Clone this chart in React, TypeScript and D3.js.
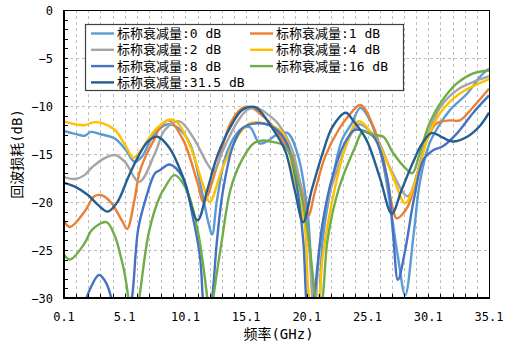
import { useEffect, useRef } from "react";
import * as d3 from "d3";

type Pt = [number, number];

// frequency (GHz), return loss (dB)
const att0: Pt[] = [[0.1,-12.6],[1.0,-12.9],[1.8,-13.1],[2.3,-12.7],[3.0,-12.9],[4.3,-13.4],[5.2,-14.6],[5.9,-15.8],[6.5,-15.3],[7.5,-13.0],[8.6,-11.9],[9.5,-12.3],[10.5,-14.0],[11.3,-18],[12.0,-22.2],[12.3,-23.4],[12.7,-19.8],[13.5,-14.9],[14.6,-12.5],[15.4,-12.2],[16.2,-13.9],[16.8,-13.7],[17.6,-13.0],[18.5,-12.8],[19.4,-15.3],[20.2,-21.6],[20.7,-31],[21.0,-32],[21.4,-24],[22.2,-17.7],[23.0,-13.5],[23.8,-11.8],[24.5,-10.2],[25.3,-11.5],[26.2,-15.0],[26.9,-19.8],[27.6,-25.7],[28.2,-29.7],[28.9,-23.3],[29.4,-18],[30.2,-13.9],[31.1,-11.8],[31.9,-10.4],[33.3,-8.7],[34.4,-6.9],[35.1,-6.1]];
const att1: Pt[] = [[0.1,-22.0],[0.6,-22.6],[1.8,-21],[2.6,-19.4],[3.2,-19.3],[4.0,-20.1],[4.9,-22],[5.3,-22.8],[5.9,-19.8],[6.3,-17],[6.8,-15.3],[7.6,-13.3],[8.0,-12.2],[8.7,-11.5],[9.9,-13.5],[11.1,-18],[11.6,-20],[12.7,-16.3],[13.8,-11.8],[14.8,-10.2],[15.4,-10.1],[16.7,-11.3],[17.7,-12.8],[18.9,-15.3],[19.7,-18.75],[20.2,-21.5],[20.8,-18.75],[21.6,-15.3],[22.7,-12.5],[23.5,-11.1],[24.5,-9.9],[25.6,-12.2],[26.4,-15.6],[27.2,-20.8],[27.5,-21.7],[28.4,-20.5],[29.2,-17],[30.0,-13.5],[30.8,-11.8],[31.9,-11.5],[32.7,-11.5],[33.8,-10.1],[35.1,-8.2]];
const att2: Pt[] = [[0.1,-17.4],[1.0,-17.6],[1.8,-17.2],[2.4,-16.4],[3.5,-15.4],[4.3,-15.1],[5.1,-15.8],[6.3,-17.9],[7.6,-14.9],[8.4,-12.5],[9.6,-11.6],[10.7,-13.2],[11.9,-16],[12.4,-16.8],[13.2,-14.6],[14.3,-11.8],[15.2,-10.4],[16.0,-10.2],[16.8,-10.8],[17.7,-11.8],[18.9,-14.6],[19.9,-20.8],[20.3,-25],[20.7,-32],[21.2,-24],[21.9,-19.4],[22.7,-16.3],[23.8,-12.8],[24.4,-11.9],[25.9,-13.5],[26.9,-16.3],[28.4,-19.4],[29.2,-17],[30.0,-13.2],[31.1,-10.1],[32.5,-8.3],[33.8,-7.5],[35.1,-6.9]];
const att4: Pt[] = [[0.1,-11.6],[1.0,-11.9],[1.8,-12.0],[2.5,-11.7],[3.3,-11.8],[4.3,-12.5],[5.2,-14.2],[5.8,-15.4],[6.5,-14.5],[7.6,-12.5],[8.8,-11.4],[9.5,-11.8],[10.5,-14.2],[11.6,-18.4],[12.1,-20.0],[13.2,-16.3],[14.6,-12.8],[15.4,-11.8],[16.5,-11.8],[18.1,-12.8],[19.1,-17.7],[19.9,-22.2],[20.5,-31],[20.9,-31],[21.4,-25.7],[22.2,-19.8],[23.2,-14.6],[24.1,-11.8],[24.5,-11.6],[26.1,-14.2],[27.2,-17.4],[28.2,-20.1],[29.4,-16.3],[30.0,-13.5],[31.1,-10.7],[32.7,-8.7],[35.1,-7.2]];
const att8: Pt[] = [[1.4,-33],[2.1,-29.5],[3.0,-27.6],[3.6,-28.5],[4.1,-30.5],[4.6,-33],[5.1,-34],[5.7,-30],[6.2,-22.9],[6.8,-19.8],[7.6,-17],[8.0,-16.7],[8.8,-16.1],[9.9,-17.5],[10.7,-21.5],[11.3,-25.7],[11.6,-31],[11.9,-33],[12.3,-30],[12.7,-24],[13.2,-18.75],[14.0,-14.2],[14.8,-12.3],[16.0,-11.8],[17.0,-12],[18.3,-13.5],[19.1,-17],[19.8,-24],[20.1,-31],[20.4,-33],[20.7,-30],[21.4,-22.2],[22.2,-17.4],[23.2,-13.9],[24.0,-12.5],[24.5,-12.5],[25.6,-13.2],[26.7,-17.4],[27.2,-23.3],[27.6,-28.1],[28.2,-25],[28.9,-19.8],[29.7,-15.6],[30.5,-14.6],[31.3,-14.2],[32.5,-12.8],[33.8,-10.7],[35.1,-8.9]];
const att16: Pt[] = [[0.1,-25.5],[0.6,-26],[1.8,-24.3],[2.4,-22.9],[3.6,-22.1],[4.3,-23.6],[4.7,-25.3],[5.1,-27.5],[5.4,-30],[5.8,-34],[6.3,-30],[7.1,-23.1],[8.0,-19.4],[8.4,-18.5],[9.2,-17.2],[10.2,-18.75],[11.1,-22.9],[11.9,-30],[12.15,-33],[12.4,-30],[13.1,-24],[13.8,-18.75],[14.6,-16],[15.7,-13.9],[16.5,-13.6],[17.1,-13.7],[18.3,-14.2],[19.4,-18],[20.2,-23.3],[20.8,-30],[21.1,-32],[21.4,-30],[21.8,-24],[22.7,-18.75],[24.1,-14.2],[24.7,-12.7],[25.6,-13],[26.4,-13.2],[27.2,-14.9],[28.4,-16.7],[28.8,-17],[29.4,-14.9],[30.2,-11.8],[31.1,-9.7],[32.5,-7.6],[33.8,-6.6],[35.1,-6.3]];
const att315: Pt[] = [[0.1,-18],[1.0,-18.4],[2.1,-19.3],[2.9,-20.3],[3.7,-21],[4.5,-20],[5.4,-17.4],[6.2,-15.3],[7.0,-13.7],[7.8,-13.2],[8.8,-14.4],[9.9,-17.4],[11.1,-21.9],[11.9,-18.75],[12.7,-15.3],[13.8,-12.2],[14.8,-10.4],[15.8,-10.1],[16.3,-10.6],[17.2,-12.2],[18.3,-14.6],[19.1,-18.75],[19.8,-22.1],[20.5,-18.75],[21.4,-14.9],[22.2,-12.2],[23.3,-10.7],[23.9,-11.5],[25.0,-13.5],[26.1,-17.4],[27.1,-21.2],[27.9,-18.75],[28.8,-16],[29.6,-13.9],[30.4,-12.8],[31.3,-13.3],[32.1,-13.7],[33.3,-13.2],[34.4,-12],[35.1,-10.7]];

const seriesNames = [
  "标称衰减量:0 dB",
  "标称衰减量:1 dB",
  "标称衰减量:2 dB",
  "标称衰减量:4 dB",
  "标称衰减量:8 dB",
  "标称衰减量:16 dB",
  "标称衰减量:31.5 dB",
];
const seriesData = [att0, att1, att2, att4, att8, att16, att315];
const seriesColors = ["#5B9BD5", "#ED7D31", "#A5A5A5", "#FFC000", "#4472C4", "#70AD47", "#255E91"];

const xTicks = [0.1, 5.1, 10.1, 15.1, 20.1, 25.1, 30.1, 35.1];
const yTicks = [0, -5, -10, -15, -20, -25, -30];

const W = 514;
const H = 346;
const M = { left: 64, right: 489, top: 10, bottom: 298 };
const FONT = "'DejaVu Sans Mono', 'Noto Sans CJK SC', sans-serif";

export default function App(): JSX.Element {
  const svgRef = useRef<SVGSVGElement | null>(null);

  useEffect(() => {
    if (!svgRef.current) return;
    const svg = d3.select(svgRef.current);
    svg.selectAll("*").remove();

    const x = d3.scaleLinear().domain([0.1, 35.1]).range([M.left, M.right]);
    const y = d3.scaleLinear().domain([-30, 0]).range([M.bottom, M.top]);

    svg.append("rect").attr("width", W).attr("height", H).attr("fill", "#fff");

    svg
      .append("defs")
      .append("clipPath")
      .attr("id", "plot-clip")
      .append("rect")
      .attr("x", M.left)
      .attr("y", M.top)
      .attr("width", M.right - M.left)
      .attr("height", M.bottom - M.top);

    // grid: every 1 GHz vertically, every 5 dB horizontally
    const grid = svg
      .append("g")
      .attr("stroke", "#bfbfbf")
      .attr("stroke-width", 1)
      .attr("stroke-dasharray", "3,3");
    grid
      .selectAll("line.v")
      .data(d3.range(1, 35).map((i) => 0.1 + i))
      .join("line")
      .attr("x1", (d) => Math.round(x(d)) + 0.5)
      .attr("x2", (d) => Math.round(x(d)) + 0.5)
      .attr("y1", M.top)
      .attr("y2", M.bottom);
    grid
      .selectAll("line.h")
      .data(yTicks.filter((v) => v > -30 && v < 0))
      .join("line")
      .attr("x1", M.left)
      .attr("x2", M.right)
      .attr("y1", (d) => Math.round(y(d)) + 0.5)
      .attr("y2", (d) => Math.round(y(d)) + 0.5);

    // series — smooth curves like the spreadsheet's smoothed lines
    const line = d3
      .line<Pt>()
      .x((d) => x(d[0]))
      .y((d) => y(d[1]))
      .curve(d3.curveCatmullRom.alpha(0.5));
    svg
      .append("g")
      .attr("clip-path", "url(#plot-clip)")
      .selectAll("path")
      .data(seriesData)
      .join("path")
      .attr("d", (d) => line(d))
      .attr("fill", "none")
      .attr("stroke", (_, i) => seriesColors[i])
      .attr("stroke-width", 2.4)
      .attr("stroke-linejoin", "round");

    // minor ticks, pointing inward
    const ticks = svg.append("g").attr("stroke", "#000").attr("stroke-width", 1);
    ticks
      .selectAll("line.yt")
      .data(d3.range(-29, 0))
      .join("line")
      .attr("x1", M.left)
      .attr("x2", M.left + 4)
      .attr("y1", (d) => Math.round(y(d)) + 0.5)
      .attr("y2", (d) => Math.round(y(d)) + 0.5);
    ticks
      .selectAll("line.xt")
      .data(d3.range(1, 35).map((i) => 0.1 + i))
      .join("line")
      .attr("x1", (d) => Math.round(x(d)) + 0.5)
      .attr("x2", (d) => Math.round(x(d)) + 0.5)
      .attr("y1", M.bottom)
      .attr("y2", M.bottom - 4);

    // frame
    svg
      .append("rect")
      .attr("x", M.left + 0.5)
      .attr("y", M.top + 0.5)
      .attr("width", M.right - M.left)
      .attr("height", M.bottom - M.top)
      .attr("fill", "none")
      .attr("stroke", "#000")
      .attr("stroke-width", 1);
    svg
      .append("path")
      .attr("d", `M${M.left},${M.top}V${M.bottom}H${M.right + 1}`)
      .attr("fill", "none")
      .attr("stroke", "#000")
      .attr("stroke-width", 2);

    // tick labels
    svg
      .append("g")
      .attr("font-family", FONT)
      .attr("font-size", 12)
      .attr("fill", "#000")
      .attr("text-anchor", "middle")
      .selectAll("text")
      .data(xTicks)
      .join("text")
      .attr("x", (d) => x(d))
      .attr("y", M.bottom + 23)
      .text((d) => d.toFixed(1));
    svg
      .append("g")
      .attr("font-family", FONT)
      .attr("font-size", 12)
      .attr("fill", "#000")
      .attr("text-anchor", "end")
      .selectAll("text")
      .data(yTicks)
      .join("text")
      .attr("x", M.left - 11)
      .attr("y", (d) => y(d) + 4.5)
      .text((d) => (d < 0 ? `\u2212${-d}` : `${d}`));

    // axis titles
    svg
      .append("text")
      .attr("transform", `translate(22,${(M.top + M.bottom) / 2}) rotate(-90)`)
      .attr("text-anchor", "middle")
      .attr("font-family", FONT)
      .attr("font-size", 14)
      .text("回波损耗(dB)");
    svg
      .append("text")
      .attr("x", (M.left + M.right) / 2 + 2)
      .attr("y", 339)
      .attr("text-anchor", "middle")
      .attr("font-family", FONT)
      .attr("font-size", 14)
      .text("频率(GHz)");

    // legend
    const lg = svg.append("g");
    lg.append("rect")
      .attr("x", 85.5)
      .attr("y", 24.5)
      .attr("width", 318)
      .attr("height", 66)
      .attr("fill", "#fff")
      .attr("stroke", "#404040")
      .attr("stroke-width", 1.2);
    const item = lg
      .selectAll("g")
      .data(seriesNames)
      .join("g")
      .attr("transform", (_, i) => `translate(${i % 2 === 0 ? 91 : 250},${33.5 + Math.floor(i / 2) * 16.3})`);
    item
      .append("line")
      .attr("x1", 0)
      .attr("x2", 23)
      .attr("stroke", (_, i) => seriesColors[i])
      .attr("stroke-width", 2.4);
    item
      .append("text")
      .attr("x", 26)
      .attr("y", 4.5)
      .attr("font-family", FONT)
      .attr("font-size", 13)
      .attr("fill", "#000")
      .text((d) => d);
  }, []);

  return (
    <svg
      ref={svgRef}
      width={W}
      height={H}
      style={{ position: "absolute", left: 0, top: 0 }}
    />
  );
}
